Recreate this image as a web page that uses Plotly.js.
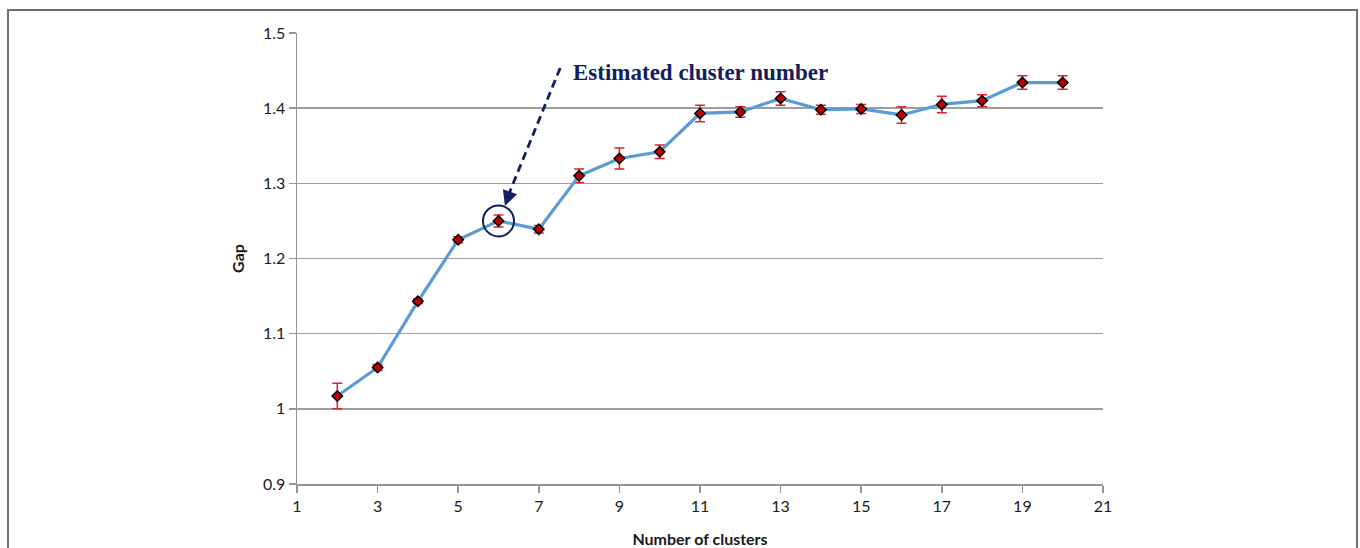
<!DOCTYPE html>
<html>
<head>
<meta charset="utf-8">
<script src="https://cdn.plot.ly/plotly-3.0.1.min.js"></script>
<style>
  html, body { margin: 0; padding: 0; background: #fff; overflow: hidden; }
  #chart { width: 1360px; height: 548px; position: absolute; left: 0; top: 0; }
  #frame { position: absolute; left: 7px; top: 9px; width: 1347px; height: 600px; border: 2px solid #6f6f6f; pointer-events: none; }
</style>
</head>
<body>
<div id="chart"></div>
<div id="frame"></div>
<script>
// Data
const clusters = [2, 3, 4, 5, 6, 7, 8, 9, 10, 11, 12, 13, 14, 15, 16, 17, 18, 19, 20];
const gapValues = [1.017, 1.055, 1.143, 1.225, 1.250, 1.239, 1.310, 1.333, 1.342, 1.393, 1.395, 1.413, 1.398, 1.399, 1.391, 1.405, 1.410, 1.434, 1.434];
const gapErrors = [0.017, 0.004, 0.003, 0.004, 0.008, 0.005, 0.009, 0.014, 0.009, 0.011, 0.007, 0.009, 0.006, 0.006, 0.011, 0.011, 0.008, 0.009, 0.009];
const xTickVals = [1, 3, 5, 7, 9, 11, 13, 15, 17, 19, 21];
const yTickVals = [0.9, 1.0, 1.1, 1.2, 1.3, 1.4, 1.5];
const yTickText = ["0.9", "1", "1.1", "1.2", "1.3", "1.4", "1.5"];
const estimatedK = 6;
const annotationText = "Estimated cluster number";

const navy = "#10205e";
const estIdx = clusters.indexOf(estimatedK);
const estY = gapValues[estIdx];
const fontFam = "Lato, 'Open Sans', sans-serif";

const trace = {
  x: clusters,
  y: gapValues,
  type: "scatter",
  mode: "lines+markers",
  line: { color: "#5b9bd5", width: 3.2 },
  marker: { symbol: "diamond", size: 8, color: "#c00000", line: { color: "#000", width: 1.5 } },
  error_y: { type: "data", array: gapErrors, visible: true, color: "#e0202a", thickness: 1.5, width: 5 },
  hoverinfo: "x+y"
};

const circleTrace = {
  x: [estimatedK],
  y: [estY],
  type: "scatter",
  mode: "markers",
  marker: { symbol: "circle-open", size: 31, color: navy, line: { color: navy, width: 2 } },
  hoverinfo: "skip"
};

const layout = {
  width: 1360,
  height: 548,
  margin: { l: 297, r: 257, t: 33, b: 64 },
  paper_bgcolor: "#fff",
  plot_bgcolor: "#fff",
  showlegend: false,
  font: { family: fontFam, size: 16, color: "#1a1a1a" },
  xaxis: {
    range: [1, 21],
    tickvals: xTickVals,
    showgrid: false,
    zeroline: false,
    showline: true,
    linecolor: "#959595",
    linewidth: 1.5,
    ticks: "outside",
    ticklen: 7,
    tickcolor: "#959595",
    tickwidth: 1.5,
    tickfont: { family: fontFam, size: 16, color: "#1a1a1a" },
    title: { text: "<b>Number of clusters</b>", font: { family: fontFam, size: 16, color: "#1a1a1a" }, standoff: 20 }
  },
  yaxis: {
    range: [0.9, 1.5],
    tickvals: yTickVals,
    ticktext: yTickText,
    showgrid: true,
    gridcolor: "#9e9e9e",
    gridwidth: 1.5,
    zeroline: false,
    showline: true,
    linecolor: "#959595",
    linewidth: 1.5,
    ticks: "outside",
    ticklen: 7,
    tickcolor: "#959595",
    tickwidth: 1.5,
    tickfont: { family: fontFam, size: 16, color: "#1a1a1a" },
    title: { text: "<b>Gap</b>", font: { family: fontFam, size: 16, color: "#1a1a1a" }, standoff: 14 }
  },
  shapes: [
    {
      type: "line", xref: "x", yref: "y",
      x0: 7.53, y0: 1.4534, x1: 6.19, y1: 1.2769,
      line: { color: navy, width: 2.8, dash: "8px,5px" }
    }
  ],
  annotations: [
    {
      x: 6.16, y: 1.2699, xref: "x", yref: "y",
      ax: 5, ay: -14, axref: "pixel", ayref: "pixel",
      text: "", showarrow: true, arrowhead: 2, arrowsize: 1.2, arrowwidth: 2.5, arrowcolor: navy
    },
    {
      x: 7.8, y: 1.4475, xref: "x", yref: "y",
      xanchor: "left", yanchor: "middle",
      text: "<b>" + annotationText + "</b>", showarrow: false,
      font: { family: "'Liberation Serif', 'DejaVu Serif', serif", size: 23, color: navy }
    }
  ]
};

Plotly.newPlot("chart", [trace, circleTrace], layout, { displayModeBar: false, staticPlot: true });
</script>
</body>
</html>
